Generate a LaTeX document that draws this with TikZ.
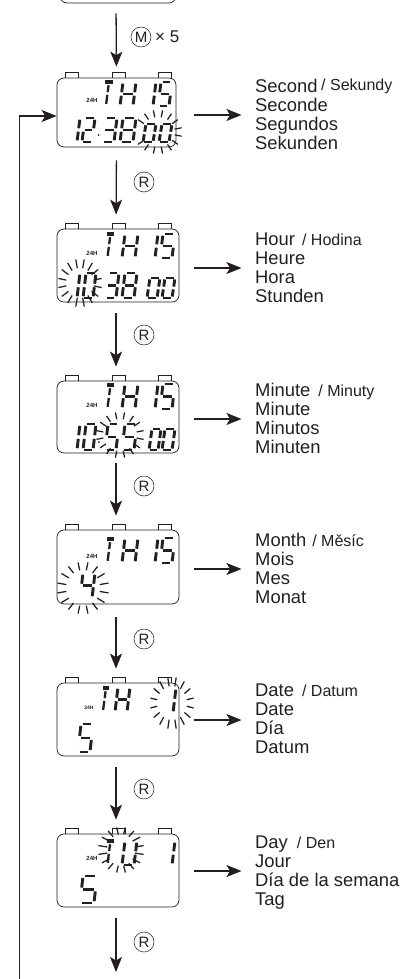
\documentclass[tikz,border=0pt]{standalone}
\usepackage{fontspec}
\setmainfont{Liberation Sans}
\usetikzlibrary{arrows.meta}
\definecolor{ink}{HTML}{231F20}
\tikzset{
  flow/.style={draw=ink,line width=1.3pt,-{Stealth[length=15pt,width=12pt,inset=3.5pt]}},
  loopline/.style={draw=ink,line width=1.3pt,-{Stealth[length=15pt,width=12pt,inset=3.5pt]}},
  watch/.style={draw=ink,line width=.7pt,rounded corners=7pt,inner sep=0pt,fill=white},
  btn/.style={draw=ink,line width=.6pt,fill=white},
  lcd/.style={draw=ink,line width=2.9pt},
  ray/.style={draw=ink,line width=1.25pt},
  keycap/.style={draw=ink,circle,line width=.5pt,minimum size=20pt,inner sep=0pt,text=ink,font=\fontsize{15}{15}\selectfont},
  lab/.style={anchor=base west,inner sep=0pt,align=left,text=ink,font=\fontsize{18.4}{18.7}\selectfont},
  tag/.style={inner sep=0pt,text=ink,font=\fontsize{6}{6}\selectfont\bfseries},
}
\def\sega{\draw[lcd] (.14,1)--(.86,1);}
\def\segb{\draw[lcd] (1,.93)--(1,.57);}
\def\segc{\draw[lcd] (1,.43)--(1,.07);}
\def\segd{\draw[lcd] (.14,0)--(.86,0);}
\def\sege{\draw[lcd] (0,.07)--(0,.43);}
\def\segf{\draw[lcd] (0,.93)--(0,.57);}
\def\segg{\draw[lcd] (.14,.5)--(.86,.5);}
\def\segi{\draw[lcd,line width=2.3pt] (.5,.86)--(.5,.56);}
\def\segj{\draw[lcd,line width=2.3pt] (.5,.44)--(.5,.05);}
\def\segt{\draw[lcd,line width=3.2pt] (0,1)--(1,1);}
\expandafter\def\csname gl0\endcsname{a,b,c,d,e,f}
\expandafter\def\csname gl1\endcsname{b,c}
\expandafter\def\csname gl2\endcsname{a,b,g,e,d}
\expandafter\def\csname gl3\endcsname{a,b,g,c,d}
\expandafter\def\csname gl4\endcsname{f,g,b,c}
\expandafter\def\csname gl5\endcsname{a,f,g,c,d}
\expandafter\def\csname gl8\endcsname{a,b,c,d,e,f,g}
\expandafter\def\csname glH\endcsname{b,c,e,f,g}
\expandafter\def\csname glT\endcsname{t,i,j}
\expandafter\def\csname glU\endcsname{b,c,d,e,f}
% x, baseline y, width, height, glyph
\newcommand\lcdglyph[5]{%
  \begin{scope}[shift={(#1,#2)},x={(#3pt,0pt)},y={(3pt,#4pt)}]
    \expandafter\let\expandafter\glyphlist\csname gl#5\endcsname
    \foreach \s in \glyphlist {\csname seg\s\endcsname}
  \end{scope}}
% name, x0, y0, x1, y1
\newcommand\watchbody[5]{%
  \foreach \b in {65,112,158} {\draw[btn] (\b,#3-6) rectangle (\b+13,#3);}
  \node[watch,minimum width={(#4-#2)*1pt},minimum height={(#5-#3)*1pt}] (#1) at ({(#2+#4)/2},{(#3+#5)/2}) {};}
% cx, cy, inner rx, inner ry, outer rx, outer ry, angles
\newcommand\flash[7]{%
  \foreach \a in {#7} {\draw[ray] ({#1+#3*cos(\a)},{#2+#4*sin(\a)}) -- ({#1+#5*cos(\a)},{#2+#6*sin(\a)});}}
\begin{document}
\begin{tikzpicture}[x=1pt,y=-1pt]
\useasboundingbox (0,0) rectangle (414,979);
% top partial body
\node[watch,minimum width=116pt,minimum height=40pt] (w0) at (118,-17) {};
% watches
\watchbody{w1}{57}{78}{176}{147}
\watchbody{w2}{57}{229}{179}{302}
\watchbody{w3}{57}{381}{179}{453}
\watchbody{w4}{57}{530}{179}{604}
\watchbody{w5}{57}{683}{179}{756}
\watchbody{w6}{57}{834}{179}{907}
% watch 1
\lcdglyph{102}{105}{8}{23}{T}\lcdglyph{120}{106}{13}{24}{H}\lcdglyph{148}{106}{5}{24}{1}\lcdglyph{158}{106}{11}{24}{5}
\lcdglyph{72}{142}{5}{24}{1}\lcdglyph{82}{142}{10}{24}{2}\lcdglyph{102}{142}{12}{24}{3}\lcdglyph{120}{142}{13}{24}{8}
\lcdglyph{143}{142}{10}{18}{0}\lcdglyph{159}{142}{10}{18}{0}
\fill[ink] (98.5,135) circle (1pt);
\flash{158}{132}{17}{15}{24}{22}{11,34,56,79,101,124,146,214,236,259,281,304,326,349}
\node[tag] (t1) at (92,100) {24H};
% watch 2
\lcdglyph{104}{257}{7}{23}{T}\lcdglyph{122}{258}{13}{24}{H}\lcdglyph{150}{258}{5}{24}{1}\lcdglyph{160}{258}{12}{24}{5}
\lcdglyph{72}{298}{5}{25}{1}\lcdglyph{83}{298}{10}{25}{0}\lcdglyph{105}{298}{11}{25}{3}\lcdglyph{122}{298}{12}{25}{8}
\lcdglyph{147}{298}{10}{20}{0}\lcdglyph{162}{298}{10}{20}{0}
\flash{80}{283}{14}{15}{22}{24}{11,34,56,79,101,124,146,169,191,214,236,259,281,304,326,349}
\node[tag] (t2) at (92,253) {24H};
% watch 3
\lcdglyph{104}{408}{7}{23}{T}\lcdglyph{122}{409}{13}{25}{H}\lcdglyph{150}{409}{5}{25}{1}\lcdglyph{160}{409}{12}{25}{5}
\lcdglyph{72}{450}{5}{26}{1}\lcdglyph{83}{450}{10}{26}{0}\lcdglyph{105}{450}{11}{26}{5}\lcdglyph{122}{450}{12}{26}{5}
\lcdglyph{149}{450}{9}{21}{0}\lcdglyph{162}{450}{10}{21}{0}
\fill[ink] (99,442) circle (1pt);
\flash{120}{435}{17}{16}{24}{23}{11,34,56,79,101,124,146,169,191,214,236,259,281,304,326,349}
\node[tag] (t3) at (92,405) {24H};
% watch 4
\lcdglyph{104}{562}{7}{23}{T}\lcdglyph{122}{563}{13}{25}{H}\lcdglyph{150}{563}{5}{25}{1}\lcdglyph{160}{563}{12}{25}{5}
\lcdglyph{80}{598}{12}{25}{4}
\flash{83}{588}{17}{18}{26}{26}{11,34,56,79,101,124,146,169,191,214,236,259,281,304,326,349}
\node[tag] (t4) at (92,556) {24H};
% watch 5
\lcdglyph{100}{711}{6}{23}{T}\lcdglyph{115}{712}{12}{25}{H}\lcdglyph{168}{713}{5}{25}{1}
\lcdglyph{78}{752}{12}{28}{5}
\flash{172}{703}{15}{17}{22}{26}{11,34,56,79,101,124,146,169,191,214,236,259,281,304,326,349}
\node[tag,font=\fontsize{5}{5}\selectfont\bfseries] (t5) at (89,708) {24H};
% watch 6
\lcdglyph{104}{864}{7}{23}{T}\lcdglyph{122}{865}{12}{24}{U}\lcdglyph{167}{865}{5}{24}{1}
\lcdglyph{80}{903}{14}{27}{5}
\flash{121}{850}{14}{16}{23}{23}{11,34,56,79,101,124,146,169,191,214,236,259,281,304,326,349}
\node[tag] (t6) at (92,858) {24H};
% key caps
\node[keycap] (k1) at (141,37) {M};
\node[anchor=west,inner sep=0pt,text=ink,font=\fontsize{17}{17}\selectfont] (k1x) at (155,37) {× 5};
\node[keycap] (k2) at (144,182) {R};
\node[keycap] (k3) at (144,335) {R};
\node[keycap] (k4) at (144,486) {R};
\node[keycap] (k5) at (144,639) {R};
\node[keycap] (k6) at (144,789) {R};
\node[keycap] (k7) at (144,942) {R};
% vertical arrows
\draw[flow,shorten <=10pt,shorten >=11pt] ([xshift=-2pt]w0.south) -- (w1.north);
\draw[flow,shorten <=13pt,shorten >=14pt] (w1.south) -- ([xshift=-2pt]w2.north);
\draw[flow,shorten <=11pt,shorten >=14pt] ([xshift=-2pt]w2.south) -- ([xshift=-2pt]w3.north);
\draw[flow,shorten <=10pt,shorten >=14pt] ([xshift=-2pt]w3.south) -- ([xshift=-2pt]w4.north);
\draw[flow,shorten <=13pt,shorten >=14pt] ([xshift=-2pt]w4.south) -- ([xshift=-2pt]w5.north);
\draw[flow,shorten <=11pt,shorten >=14pt] ([xshift=-2pt]w5.south) -- ([xshift=-2pt]w6.north);
\coordinate (endfree) at (116,972);
\draw[flow,shorten <=11pt] ([xshift=-2pt]w6.south) -- (endfree);
% return loop
\coordinate (loopstart) at (19.5,979);
\coordinate (loopcorner) at (19.5,116);
\draw[loopline] (loopstart) -- (loopcorner) -- (w1.west |- loopcorner);
% labels (the node's base is its last line)
\node[lab] (l1) at (255,149) {Second\hspace{3.6pt}\raisebox{2pt}{\fontsize{16}{16}\selectfont / Sekundy}\\Seconde\\Segundos\\Sekunden};
\node[lab] (l2) at (255,302) {Hour\hspace{7pt}{\fontsize{16}{16}\selectfont / Hodina}\\Heure\\Hora\\Stunden};
\node[lab] (l3) at (255,453) {Minute\hspace{8pt}{\fontsize{16}{16}\selectfont / Minuty}\\Minute\\Minutos\\Minuten};
\node[lab] (l4) at (255,603) {Month\hspace{6pt}{\fontsize{16}{16}\selectfont / Měsíc}\\Mois\\Mes\\Monat};
\node[lab] (l5) at (255,753) {Date\hspace{8pt}{\fontsize{16}{16}\selectfont / Datum}\\Date\\Día\\Datum};
\node[lab] (l6) at (255,905) {Day\hspace{9pt}{\fontsize{16}{16}\selectfont / Den}\\Jour\\Día de la semana\\Tag};
% side arrows
\foreach \i/\y in {1/115,2/268,3/419,4/569,5/720,6/871} {
  \coordinate (s\i) at (194,\y);
  \coordinate (e\i) at (241.5,\y);
  \draw[flow] (s\i) -- (e\i);
}
\end{tikzpicture}
\end{document}
